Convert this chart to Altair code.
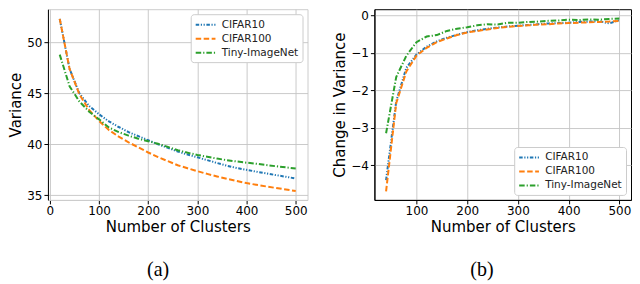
import altair as alt
import pandas as pd

series = ["CIFAR10", "CIFAR100", "Tiny-ImageNet"]
colors = ["#1f77b4", "#ff7f0e", "#2ca02c"]
dashes = [[3.5, 1.6, 1.2, 1.6, 1.2, 1.6], [5.5, 2.5], [5.5, 2, 1.2, 2]]

# Panel (a): variance vs number of clusters
clusters_a = [20, 40, 60, 80, 100, 120, 140, 160, 180, 200, 220, 240, 260,
              280, 300, 320, 340, 360, 380, 400, 420, 440, 460, 480, 500]
var_cifar10 = [52.3, 47.4, 45.0, 43.75, 42.95, 42.25, 41.7, 41.2, 40.8, 40.4,
               40.0, 39.65, 39.3, 39.0, 38.73, 38.45, 38.17, 37.9, 37.68, 37.5,
               37.32, 37.15, 36.98, 36.82, 36.65]
var_cifar100 = [52.3, 47.4, 44.9, 43.35, 42.3, 41.4, 40.75, 40.2, 39.7, 39.2,
                38.75, 38.35, 37.95, 37.65, 37.37, 37.1, 36.85, 36.62, 36.4, 36.2,
                36.03, 35.87, 35.72, 35.57, 35.43]
var_tiny = [48.8, 45.7, 44.2, 43.2, 42.45, 41.65, 41.2, 40.85, 40.55, 40.3,
            40.05, 39.75, 39.42, 39.18, 38.96, 38.78, 38.6, 38.45, 38.32, 38.2,
            38.1, 37.97, 37.85, 37.74, 37.63]

# Panel (b): change in variance vs number of clusters
clusters_b = [40, 60, 80, 100, 120, 140, 160, 180, 200, 220, 240, 260,
              280, 300, 320, 340, 360, 380, 400, 420, 440, 460, 480, 500]
dvar_cifar10 = [-4.4, -2.3, -1.4, -1.05, -0.84, -0.7, -0.6, -0.52, -0.45, -0.4,
                -0.36, -0.33, -0.3, -0.28, -0.26, -0.24, -0.22, -0.21, -0.2,
                -0.18, -0.17, -0.16, -0.22, -0.13]
dvar_cifar100 = [-4.7, -2.35, -1.5, -1.08, -0.87, -0.72, -0.62, -0.53, -0.46,
                 -0.42, -0.38, -0.34, -0.31, -0.29, -0.27, -0.25, -0.24, -0.22,
                 -0.21, -0.2, -0.19, -0.18, -0.17, -0.15]
dvar_tiny = [-3.15, -1.65, -1.08, -0.72, -0.57, -0.53, -0.42, -0.36, -0.32,
             -0.27, -0.24, -0.25, -0.2, -0.2, -0.18, -0.17, -0.15, -0.14, -0.12,
             -0.13, -0.11, -0.12, -0.1, -0.09]


def long_df(xs, cols):
    rows = []
    for name, vals in zip(series, cols):
        for x, v in zip(xs, vals):
            rows.append({"clusters": x, "value": v, "series": name})
    return pd.DataFrame(rows)


df_a = long_df(clusters_a, [var_cifar10, var_cifar100, var_tiny])
df_b = long_df(clusters_b, [dvar_cifar10, dvar_cifar100, dvar_tiny])


def legend(orient):
    return alt.Legend(
        title=None, orient=orient, offset=5, symbolType="M-1,0H2.6",
        symbolSize=121, symbolStrokeWidth=2, labelFontSize=10.5,
        labelFont="DejaVu Sans", labelColor="#222222", rowPadding=2,
        padding=4, fillColor="white", strokeColor="#cccccc", cornerRadius=3,
        labelOffset=14,
    )


def panel(df, xdom, ydom, xvals, yvals, ytitle, legend_orient, caption,
          width, left_dark_only):
    frame = "#cccccc" if left_dark_only else "black"
    lg = legend(legend_orient)
    base = alt.Chart(df).mark_line(strokeWidth=2, clip=True).encode(
        x=alt.X("clusters:Q",
                scale=alt.Scale(domain=xdom, nice=False, zero=False),
                axis=alt.Axis(values=xvals, title="Number of Clusters",
                              domainColor=frame)),
        y=alt.Y("value:Q",
                scale=alt.Scale(domain=ydom, nice=False, zero=False),
                axis=alt.Axis(values=yvals, title=ytitle,
                              domainColor="black")),
        color=alt.Color("series:N",
                        scale=alt.Scale(domain=series, range=colors),
                        legend=lg),
        strokeDash=alt.StrokeDash("series:N",
                                  scale=alt.Scale(domain=series, range=dashes),
                                  legend=lg),
        order=alt.Order("clusters:Q"),
    )
    return base.properties(
        width=width, height=191,
        view=alt.ViewBackground(stroke=frame, strokeWidth=1),
        title=alt.TitleParams(caption, orient="bottom", anchor="middle",
                              frame="bounds", font="Liberation Serif",
                              fontSize=20, fontWeight="normal", color="black",
                              offset=25),
    )


left = panel(df_a, [-4, 524], [34.55, 53.25], [0, 100, 200, 300, 400, 500],
             [35, 40, 45, 50], "Variance", "top-right", "(a)", 260, True)
right = panel(df_b, [17, 523], [-4.93, 0.16], [100, 200, 300, 400, 500],
              [-4, -3, -2, -1, 0], "Change in Variance", "bottom-right", "(b)",
              257, False)

chart = alt.hconcat(left, right, spacing=23).resolve_scale(
    color="independent", strokeDash="independent"
).resolve_legend(
    color="independent", strokeDash="independent"
).properties(
    padding={"left": 0, "top": 0, "right": 0, "bottom": 0}
).configure_axis(
    labelFont="DejaVu Sans", labelFontSize=12, labelColor="black",
    titleFont="DejaVu Sans", titleFontSize=15, titleFontWeight="normal",
    titleColor="black", gridColor="#c4c4c4", gridWidth=0.9,
    tickColor="black", tickSize=4, labelPadding=2, titlePadding=3,
    domainWidth=1,
).configure_view(
    stroke="black"
)

chart.save("out.html", embed_options={"renderer": "svg", "actions": False})
